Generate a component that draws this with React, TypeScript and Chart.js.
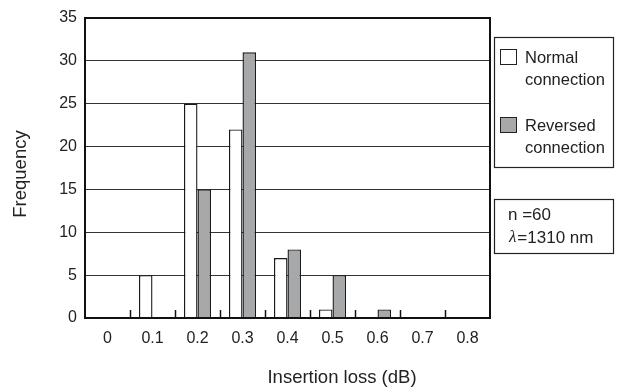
import React, { useEffect, useRef } from "react";
import { Chart, registerables } from "chart.js";

Chart.register(...registerables);

const categories = ["0", "0.1", "0.2", "0.3", "0.4", "0.5", "0.6", "0.7", "0.8"];
const normalValues = [0, 5, 25, 22, 7, 1, 0, 0, 0];
const reversedValues = [0, 0, 15, 31, 8, 5, 1, 0, 0];
const normalLabel = ["Normal", "connection"];
const reversedLabel = ["Reversed", "connection"];
const statsN = "n =60";
const statsLambda = "=1310 nm";
const xTitle = "Insertion loss (dB)";
const yTitle = "Frequency";

const FONT = "'Liberation Sans', Arial, sans-serif";
const TEXT = "#222";

const framePlugin = {
  id: "frameAndTicks",
  afterDatasetsDraw(chart: any) {
    const { ctx, chartArea } = chart;
    const xs = chart.scales.x;
    ctx.save();
    // inner tick marks between categories
    ctx.strokeStyle = "#111";
    ctx.lineWidth = 1.5;
    for (let i = 1; i < categories.length; i++) {
      const x = Math.round((xs.getPixelForValue(i - 1) + xs.getPixelForValue(i)) / 2) + 0.5;
      ctx.beginPath();
      ctx.moveTo(x, chartArea.bottom);
      ctx.lineTo(x, chartArea.bottom - 8);
      ctx.stroke();
    }
    // frame
    ctx.strokeStyle = "#111";
    ctx.lineWidth = 2;
    ctx.strokeRect(chartArea.left, chartArea.top, chartArea.right - chartArea.left, chartArea.bottom - chartArea.top);

    // axis titles
    ctx.fillStyle = TEXT;
    ctx.font = "18.5px " + FONT;
    ctx.textAlign = "center";
    ctx.textBaseline = "alphabetic";
    ctx.fillText(xTitle, 342, 383);
    ctx.save();
    ctx.translate(26, 174);
    ctx.rotate(-Math.PI / 2);
    ctx.fillText(yTitle, 0, 0);
    ctx.restore();

    // legend box
    const bx = chartArea.right + 4;
    const bw = 119;
    ctx.lineWidth = 1.2;
    ctx.strokeStyle = "#222";
    ctx.strokeRect(bx + 0.5, 37.5, bw, 130);
    const ds = chart.data.datasets;
    const items = [
      { y: 49, lines: normalLabel, ds: ds[0] },
      { y: 117, lines: reversedLabel, ds: ds[1] },
    ];
    ctx.font = "16.5px " + FONT;
    ctx.textBaseline = "middle";
    ctx.textAlign = "left";
    for (const it of items) {
      ctx.fillStyle = it.ds.backgroundColor;
      ctx.fillRect(bx + 6.5, it.y + 0.5, 16, 15);
      ctx.strokeStyle = "#222";
      ctx.lineWidth = 1;
      ctx.strokeRect(bx + 6.5, it.y + 0.5, 16, 15);
      ctx.fillStyle = TEXT;
      ctx.fillText(it.lines[0], bx + 31, it.y + 9);
      ctx.fillText(it.lines[1], bx + 31, it.y + 31);
    }

    // stats box
    ctx.lineWidth = 1.2;
    ctx.strokeStyle = "#222";
    ctx.strokeRect(bx + 0.5, 199.5, bw, 54);
    ctx.fillStyle = TEXT;
    ctx.font = "17px " + FONT;
    ctx.fillText(statsN, bx + 14, 215);
    ctx.font = "italic 17px 'Liberation Serif', 'Times New Roman', serif";
    ctx.fillText("\u03bb", bx + 15, 238);
    const lw = ctx.measureText("\u03bb").width;
    ctx.font = "17px " + FONT;
    ctx.fillText(statsLambda, bx + 15 + lw + 1, 238);
    ctx.restore();
  },
};

export default function App() {
  const ref = useRef<HTMLCanvasElement | null>(null);
  useEffect(() => {
    if (!ref.current) return;
    const chart = new Chart(ref.current, {
      type: "bar",
      data: {
        labels: categories,
        datasets: [
          {
            label: normalLabel.join(" "),
            data: normalValues,
            backgroundColor: "#ffffff",
            borderColor: "#1a1a1a",
            borderWidth: 1.4,
            categoryPercentage: 0.6,
            barPercentage: 1,
          },
          {
            label: reversedLabel.join(" "),
            data: reversedValues,
            backgroundColor: "#a7a8aa",
            borderColor: "#1a1a1a",
            borderWidth: 1.4,
            categoryPercentage: 0.6,
            barPercentage: 1,
          },
        ],
      },
      options: {
        animation: false,
        responsive: true,
        maintainAspectRatio: false,
        layout: { padding: { top: 18, right: 127, left: 0, bottom: 0 } },
        plugins: { legend: { display: false }, tooltip: { enabled: false } },
        scales: {
          x: {
            grid: { display: false, drawTicks: false },
            border: { display: false },
            ticks: { color: TEXT, font: { family: FONT, size: 16 }, padding: 11, maxRotation: 0 },
            afterFit: (s: any) => { s.height = 69; },
          },
          y: {
            min: 0,
            max: 35,
            ticks: { stepSize: 5, color: TEXT, font: { family: FONT, size: 16 }, padding: 8 },
            grid: { color: "#333", lineWidth: 1, drawTicks: false },
            border: { display: false },
            afterFit: (s: any) => { s.width = 85; },
          },
        },
      },
      plugins: [framePlugin],
    });
    return () => chart.destroy();
  }, []);
  return (
    <div style={{ position: "absolute", left: 0, top: 0, width: 617, height: 387, background: "#fff" }}>
      <canvas ref={ref} />
    </div>
  );
}
